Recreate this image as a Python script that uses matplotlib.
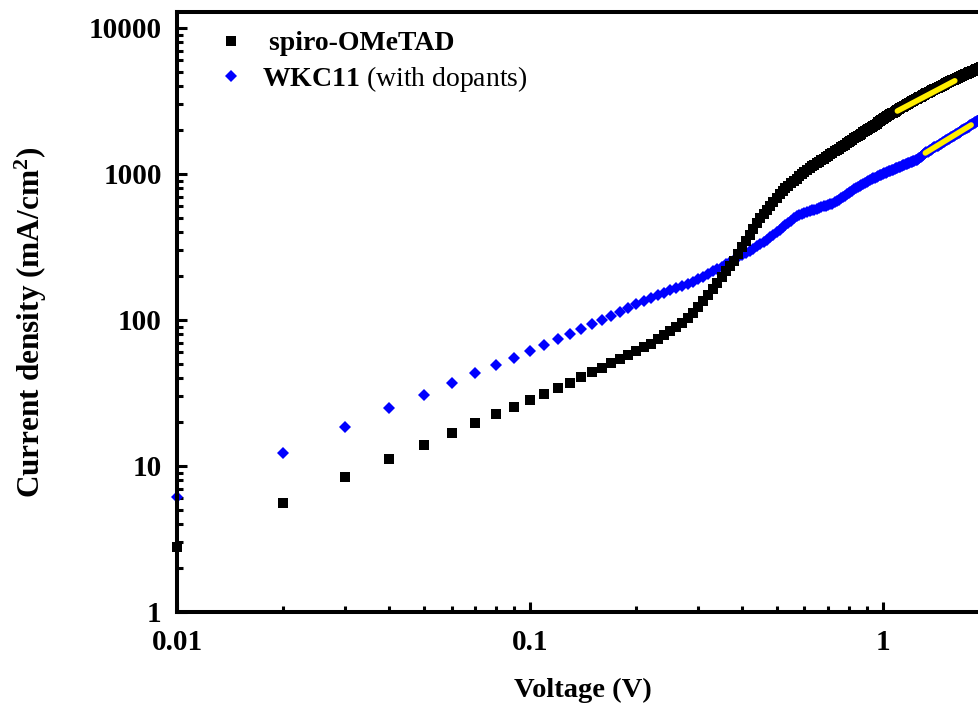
import matplotlib
matplotlib.use("Agg")
import matplotlib.pyplot as plt
from matplotlib.ticker import FixedLocator, NullFormatter

plt.rcParams['font.family'] = ['Liberation Serif', 'DejaVu Serif']
plt.rcParams['mathtext.fontset'] = 'custom'
plt.rcParams['mathtext.rm'] = 'Liberation Serif'
plt.rcParams['mathtext.bf'] = 'Liberation Serif:bold'
plt.rcParams['mathtext.it'] = 'Liberation Serif:italic'

# measurement grid: 0.01 V steps from 0.01 V to 1.90 V
voltage = [i / 100 for i in range(1, 191)]

spiro = [
    2.8, 5.56, 8.36, 11.2, 13.9, 16.7, 19.6, 22.6, 25.5, 28.3,
    31.2, 34.2, 37.3, 40.5, 43.8, 47.2, 50.8, 54.4, 58.0, 61.6,
    65, 69, 74, 79, 84, 90, 96, 103, 112, 122,
    135, 149, 164, 180, 198, 216, 235, 255, 283, 314,
    347, 383, 422, 462, 496, 531, 568, 606, 646, 688,
    732, 763, 796, 828, 861, 894, 927, 962, 997, 1032,
    1069, 1099, 1128, 1157, 1186, 1216, 1245, 1276, 1306, 1336,
    1367, 1399, 1429, 1462, 1493, 1526, 1558, 1591, 1623, 1656,
    1690, 1723, 1757, 1791, 1825, 1860, 1894, 1929, 1965, 2000,
    2035, 2071, 2107, 2144, 2181, 2217, 2254, 2292, 2329, 2367,
    2405, 2443, 2482, 2520, 2559, 2598, 2637, 2677, 2717, 2757,
    2796, 2830, 2864, 2899, 2933, 2968, 3003, 3038, 3073, 3108,
    3143, 3178, 3213, 3249, 3284, 3320, 3356, 3393, 3429, 3465,
    3501, 3537, 3573, 3606, 3639, 3671, 3704, 3737, 3770, 3802,
    3835, 3868, 3901, 3936, 3969, 4002, 4035, 4069, 4102, 4136,
    4170, 4203, 4236, 4270, 4304, 4337, 4371, 4406, 4436, 4467,
    4497, 4528, 4558, 4588, 4619, 4650, 4680, 4711, 4742, 4772,
    4803, 4833, 4864, 4895, 4926, 4957, 4987, 5018, 5048, 5079,
    5110, 5140, 5171, 5201, 5233, 5264, 5297, 5327, 5357, 5390,
]

wkc11 = [
    6.15, 12.3, 18.5, 24.8, 30.6, 36.8, 43.1, 49.2, 55.3, 61.3,
    67.8, 74.2, 80.7, 87.3, 93.8, 100.5, 107.3, 114.2, 121, 128,
    134.9, 141.6, 148.1, 153.7, 159.7, 165.7, 171.7, 177.6, 183.5, 189.5,
    197.9, 206.4, 214.9, 223.6, 232.3, 241.1, 249.9, 258.9, 268.6, 278.4,
    288.4, 298.5, 308.6, 318.9, 329.1, 339.5, 353.9, 368.7, 383.7, 399.1,
    414.7, 430.6, 446.8, 463.4, 480.1, 497.3, 514.5, 523.1, 531.9, 540.6,
    549.3, 557.9, 566.5, 570.7, 578, 585.2, 592.4, 599.5, 606.6, 613.7,
    620.8, 627.9, 639.7, 653.7, 667.9, 682.3, 696.6, 711.2, 726, 740.6,
    755.4, 770.5, 784.7, 797.9, 811, 824.2, 837.5, 850.8, 864.2, 877.6,
    891.1, 904.6, 918.3, 931.9, 945.6, 959.3, 969.6, 979.7, 990.2, 1000.5,
    1010.7, 1020.9, 1031.3, 1041.6, 1051.9, 1062.2, 1072.7, 1082.9, 1093.2, 1103.6,
    1114, 1124, 1134, 1144, 1154, 1164, 1175, 1185, 1195, 1205,
    1214, 1224, 1234, 1244, 1255, 1274, 1293, 1313, 1333, 1353,
    1373, 1393, 1409, 1424, 1440, 1456, 1471, 1487, 1503, 1519,
    1535, 1551, 1567, 1584, 1600, 1617, 1633, 1650, 1666, 1683,
    1700, 1716, 1733, 1750, 1766, 1783, 1800, 1817, 1834, 1851,
    1868, 1885, 1903, 1920, 1937, 1954, 1972, 1989, 2007, 2024,
    2042, 2060, 2077, 2095, 2113, 2131, 2149, 2167, 2187, 2206,
    2225, 2245, 2265, 2284, 2304, 2324, 2344, 2364, 2384, 2404,
]

# linear (log-log) fit segments drawn in yellow
spiro_fit_v = [1.10, 1.60]
spiro_fit_j = [2700, 4350]
wkc_fit_v = [1.32, 1.78]
wkc_fit_j = [1393, 2167]

xticks = [0.01, 0.1, 1]
xticklabels = ['0.01', '0.1', '1']
yticks = [1, 10, 100, 1000, 10000]
yticklabels = ['1', '10', '100', '1000', '10000']

W, H = 979, 706
fig = plt.figure(figsize=(W / 100, H / 100), dpi=100)
left_px, right_px, top_px, bottom_px = 177, 989, 12, 612
ax = fig.add_axes([left_px / W, (H - bottom_px) / H,
                   (right_px - left_px) / W, (bottom_px - top_px) / H])
ax.set_xscale('log')
ax.set_yscale('log')

ax.plot(voltage, wkc11, linestyle='none', marker='D', markersize=6.5,
        color='#0000ff', markeredgewidth=0, label='WKC11 $\\mathrm{(with\\ dopants)}$',
        clip_on=False, zorder=2)
ax.plot(voltage, spiro, linestyle='none', marker='s', markersize=6.8,
        color='black', markeredgewidth=0, label=' spiro-OMeTAD',
        clip_on=False, zorder=2.1)
ax.plot(spiro_fit_v, spiro_fit_j, color='#ffee00', lw=4.0,
        solid_capstyle='round', zorder=3)
ax.plot(wkc_fit_v, wkc_fit_j, color='#ffee00', lw=4.0,
        solid_capstyle='round', zorder=3)

ax.set_xlim(0.01, 2.0)
ax.set_ylim(1, 10 ** ((bottom_px - top_px) / 146))

ax.xaxis.set_major_locator(FixedLocator(xticks))
ax.set_xticklabels(xticklabels)
ax.yaxis.set_major_locator(FixedLocator(yticks))
ax.set_yticklabels(yticklabels)
ax.xaxis.set_minor_locator(FixedLocator([m * d for d in (0.01, 0.1, 1) for m in range(2, 10)]))
ax.yaxis.set_minor_locator(FixedLocator([m * d for d in (1, 10, 100, 1000) for m in range(2, 10)]))
ax.xaxis.set_minor_formatter(NullFormatter())
ax.yaxis.set_minor_formatter(NullFormatter())

ax.tick_params(which='both', direction='in', top=False, right=False, width=2.2,
               labelsize=21)
ax.tick_params(which='major', length=7.5)
ax.tick_params(which='minor', length=4.5)
ax.tick_params(axis='y', pad=11)
ax.tick_params(axis='x', pad=12)
for lab in ax.get_xticklabels() + ax.get_yticklabels():
    lab.set_fontweight('bold')

for side in ('left', 'bottom', 'top', 'right'):
    ax.spines[side].set_linewidth(2.9)

ax.set_xlabel('Voltage (V)', fontsize=20.5, fontweight='bold')
ax.set_ylabel('Current density (mA/cm$^\\mathbf{2}$)', fontsize=22.5, fontweight='bold')
ax.xaxis.set_label_coords((583 - left_px) / (right_px - left_px), (bottom_px - 690) / (bottom_px - top_px))
ax.xaxis.label.set_verticalalignment('center')
ax.yaxis.set_label_coords((31 - left_px) / (right_px - left_px), (bottom_px - 322) / (bottom_px - top_px))
ax.yaxis.label.set_verticalalignment('center')

handles, labels = ax.get_legend_handles_labels()
leg = ax.legend(handles[::-1], labels[::-1], loc='upper left',
                bbox_to_anchor=((220 - left_px) / (right_px - left_px), 1 - 19 / 600),
                frameon=False, prop={'family': 'Liberation Serif', 'weight': 'bold', 'size': 20},
                numpoints=1, handlelength=0.8, handletextpad=0.72,
                borderpad=0, borderaxespad=0, labelspacing=0.27)

fig.savefig('out.png', dpi=100)
